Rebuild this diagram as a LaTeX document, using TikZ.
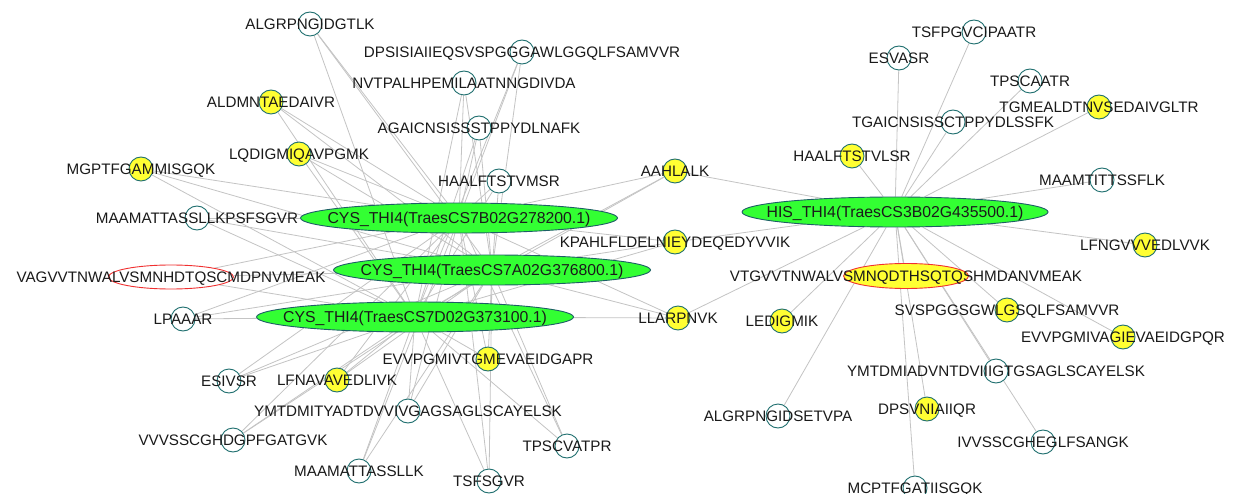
\documentclass[tikz,border=0pt]{standalone}
\usepackage{fontspec}
\setmainfont{Liberation Sans}
\usetikzlibrary{shapes.geometric,backgrounds}
\definecolor{edgegray}{HTML}{C4C4C4}
\definecolor{tealline}{HTML}{1F6F6F}
\definecolor{hubgreen}{HTML}{33FF33}
\definecolor{hubborder}{HTML}{1D5E66}
\definecolor{pepyellow}{HTML}{FFFF33}
\definecolor{redline}{HTML}{F03030}
\definecolor{txt}{HTML}{1A1A1A}
\pgfdeclarelayer{bg}
\pgfsetlayers{bg,background,main}
\begin{document}
\begin{tikzpicture}[x=1pt,y=-1pt,
  every node/.style={font=\fontsize{15.2}{18}\selectfont, text=txt},
  lbl/.style={inner sep=0pt, text height=10.9pt, text depth=0pt},
  hublbl/.style={lbl, font=\fontsize{15.8}{18}\selectfont, text height=11.3pt},
  pep/.style={circle, draw=tealline, line width=0.9pt, fill=white, minimum size=24pt, inner sep=0pt},
  hit/.style={pep, fill=pepyellow},
  hub/.style={ellipse, draw=hubborder, line width=0.9pt, fill=hubgreen, minimum width=317pt, minimum height=30pt, inner sep=0pt},
  redell/.style={ellipse, draw=redline, line width=0.9pt, fill=white, minimum width=125pt, minimum height=24pt, inner sep=0pt},
  edge/.style={draw=edgegray, line width=0.8pt}
]
\begin{pgfonlayer}{bg}
\fill[white] (0,0) rectangle (1241,494);
\end{pgfonlayer}
\useasboundingbox (0,0) rectangle (1241,494);

% hubs
\node[hub, label={[hublbl]center:CYS\_THI4(TraesCS7B02G278200.1)}] (c7b) at (459,218) {};
\node[hub, label={[hublbl]center:CYS\_THI4(TraesCS7A02G376800.1)}] (c7a) at (492,270) {};
\node[hub, label={[hublbl]center:CYS\_THI4(TraesCS7D02G373100.1)}] (c7d) at (415,317) {};
\node[hub, minimum width=306pt, label={[hublbl]center:HIS\_THI4(TraesCS3B02G435500.1)}] (his) at (895,212) {};

% left cluster peptides
\node[pep, label={[lbl]center:ALGRPNGIDGTLK}] (p1) at (310,24) {};
\node[pep, label={[lbl]center:DPSISIAIIEQSVSPGGGAWLGGQLFSAMVVR}] (p2) at (522,52) {};
\node[pep, label={[lbl]center:NVTPALHPEMILAATNNGDIVDA}] (p3) at (464,83) {};
\node[pep, label={[lbl]center:AGAICNSISSSTPPYDLNAFK}] (p4) at (479,128) {};
\node[pep, label={[lbl]center:HAALFTSTVMSR}] (p5) at (499,181) {};
\node[hit, label={[lbl]center:ALDMNTAEDAIVR}] (p6) at (271,102) {};
\node[hit, label={[lbl]center:LQDIGMIQAVPGMK}] (p7) at (299,154) {};
\node[hit, label={[lbl]center:MGPTFGAMMISGQK}] (p8) at (141,169) {};
\node[pep, label={[lbl]center:MAAMATTASSLLKPSFSGVR}] (p9) at (197,218) {};
\node[hit, label={[lbl]center:AAHLALK}] (p10) at (675,171) {};
\node[hit, label={[lbl]center:KPAHLFLDELNIEYDEQEDYVVIK}] (p11) at (675,242) {};
\node[redell, label={[lbl]center:VAGVVTNWALVSMNHDTQSCMDPNVMEAK}] (p12) at (171,277) {};
\node[pep, label={[lbl]center:LPAAAR}] (p13) at (183,319) {};
\node[hit, label={[lbl]center:LLARPNVK}] (p14) at (678,318) {};
\node[pep, label={[lbl]center:ESIVSR}] (p15) at (229,381) {};
\node[hit, label={[lbl]center:LFNAVAVEDLIVK}] (p16) at (337,380) {};
\node[hit, label={[lbl]center:EVVPGMIVTGMEVAEIDGAPR}] (p17) at (488,359) {};
\node[pep, label={[lbl]center:YMTDMITYADTDVVIVGAGSAGLSCAYELSK}] (p18) at (408,411) {};
\node[pep, label={[lbl]center:VVVSSCGHDGPFGATGVK}] (p19) at (233,440) {};
\node[pep, label={[lbl]center:MAAMATTASSLLK}] (p20) at (359,471) {};
\node[pep, label={[lbl]center:TSFSGVR}] (p21) at (489,481) {};
\node[pep, label={[lbl]center:TPSCVATPR}] (p22) at (567,446) {};

% right cluster peptides
\node[pep, label={[lbl]center:TSFPGVCIPAATR}] (q1) at (974,32) {};
\node[pep, label={[lbl]center:ESVASR}] (q2) at (899,58) {};
\node[pep, label={[lbl]center:TPSCAATR}] (q3) at (1030,81) {};
\node[hit, label={[lbl]center:TGMEALDTNVSEDAIVGLTR}] (q4) at (1099,107) {};
\node[pep, label={[lbl]center:TGAICNSISSCTPPYDLSSFK}] (q5) at (953,122) {};
\node[hit, label={[lbl]center:HAALFTSTVLSR}] (q6) at (852,156) {};
\node[pep, label={[lbl]center:MAAMTITTSSFLK}] (q7) at (1102,180) {};
\node[hit, label={[lbl]center:LFNGVVVEDLVVK}] (q8) at (1145,245) {};
\node[redell, fill=pepyellow, minimum height=25pt, label={[lbl]center:VTGVVTNWALVSMNQDTHSQTQSHMDANVMEAK}] (q9) at (906,276) {};
\node[hit, label={[lbl]center:LEDIGMIK}] (q10) at (782,321) {};
\node[hit, label={[lbl]center:SVSPGGSGWLGSQLFSAMVVR}] (q11) at (1007,310) {};
\node[hit, label={[lbl]center:EVVPGMIVAGIEVAEIDGPQR}] (q12) at (1123,337) {};
\node[pep, label={[lbl]center:YMTDMIADVNTDVIIIGTGSAGLSCAYELSK}] (q13) at (996,371) {};
\node[hit, label={[lbl]center:DPSVNIAIIQR}] (q14) at (927,409) {};
\node[pep, label={[lbl]center:ALGRPNGIDSETVPA}] (q15) at (778,416) {};
\node[pep, label={[lbl]center:IVVSSCGHEGLFSANGK}] (q16) at (1043,442) {};
\node[pep, label={[lbl]center:MCPTFGATIISGQK}] (q17) at (915,488) {};

\begin{pgfonlayer}{background}
\foreach \p in {p1,p2,p3,p4,p5,p6,p7,p8,p9,p10,p11,p12,p13,p14,p15,p16,p17,p18,p19,p20,p21,p22}
  \foreach \h in {c7b,c7a,c7d}
    \draw[edge] (\p) -- (\h);
\foreach \q in {q1,q2,q3,q4,q5,q6,q7,q8,q9,q10,q11,q12,q13,q14,q15,q16,q17,p10,p11,p14}
  \draw[edge] (\q) -- (his);
\end{pgfonlayer}
\end{tikzpicture}
\end{document}
